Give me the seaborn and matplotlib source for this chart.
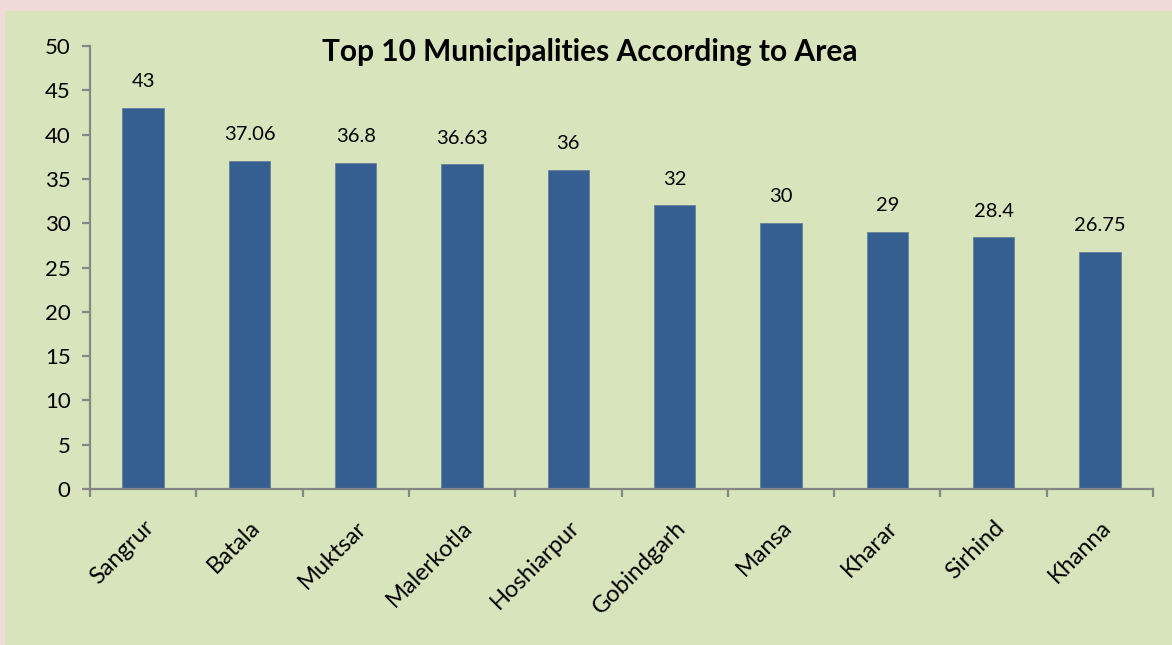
import numpy as np
import pandas as pd
import matplotlib
matplotlib.use('Agg')
import matplotlib.pyplot as plt
import seaborn as sns
from matplotlib.patches import Rectangle

# --- data ---
towns = ['Sangrur', 'Batala', 'Muktsar', 'Malerkotla', 'Hoshiarpur',
         'Gobindgarh', 'Mansa', 'Kharar', 'Sirhind', 'Khanna']
area = [43, 37.06, 36.8, 36.63, 36, 32, 30, 29, 28.4, 26.75]
area_labels = ['43', '37.06', '36.8', '36.63', '36', '32', '30', '29', '28.4', '26.75']
yticks = [0, 5, 10, 15, 20, 25, 30, 35, 40, 45, 50]

df = pd.DataFrame({'town': towns, 'area': area})

# --- style ---
sns.set_style('white')
plt.rcParams['font.family'] = ['Lato', 'DejaVu Sans']
plt.rcParams['text.color'] = 'black'
plt.rcParams['xtick.color'] = 'black'
plt.rcParams['ytick.color'] = 'black'

green = '#D8E4BC'
pink = '#F0DBDA'
bar_col = '#355E91'
axis_col = '#868686'

fig = plt.figure(figsize=(11.72, 6.45), dpi=100)
fig.patch.set_facecolor(pink)
fig.patches.append(Rectangle((5 / 1172, 0), 1, 1 - 11 / 645,
                             transform=fig.transFigure, facecolor=green,
                             edgecolor='none', zorder=-10))

ax = fig.add_axes([90 / 1172, 1 - 489 / 645, (1153 - 90) / 1172, (489 - 46) / 645])
ax.set_facecolor('none')

sns.barplot(data=df, x='town', y='area', color=bar_col, width=0.39,
            edgecolor='#6a7f99', linewidth=0.6, saturation=1, ax=ax)

# value labels above bars
for i, (v, lab) in enumerate(zip(area, area_labels)):
    ax.text(i, v + 2.0, lab, ha='center', va='bottom', fontsize=14.5, color='black')

ax.set_xlim(-0.5, 9.5)
ax.set_ylim(0, 50)
ax.set_yticks(yticks)
ax.set_xlabel('')
ax.set_ylabel('')

for s in ['top', 'right']:
    ax.spines[s].set_visible(False)
for s in ['left', 'bottom']:
    ax.spines[s].set_color(axis_col)
    ax.spines[s].set_linewidth(1.6)

ax.set_xticks(range(len(towns)))
ax.set_xticklabels(towns, rotation=45, ha='right', rotation_mode='anchor',
                   fontsize=17)
ax.tick_params(axis='x', which='major', length=0, pad=20)
ax.set_xticks(np.arange(-0.5, 10.0, 1), minor=True)
ax.tick_params(axis='x', which='minor', length=6, width=1.6, color=axis_col,
               direction='out', bottom=True)
ax.tick_params(axis='y', length=6, width=1.6, color=axis_col, direction='out',
               left=True, labelsize=16, pad=8, labelcolor='black')
ax.tick_params(axis='x', labelcolor='black')

fig.text(590 / 1172, 1 - 52 / 645, 'Top 10 Municipalities According to Area',
         ha='center', va='center', fontsize=21.5, fontweight='bold')

fig.savefig('out.png', dpi=100, facecolor=fig.get_facecolor())
